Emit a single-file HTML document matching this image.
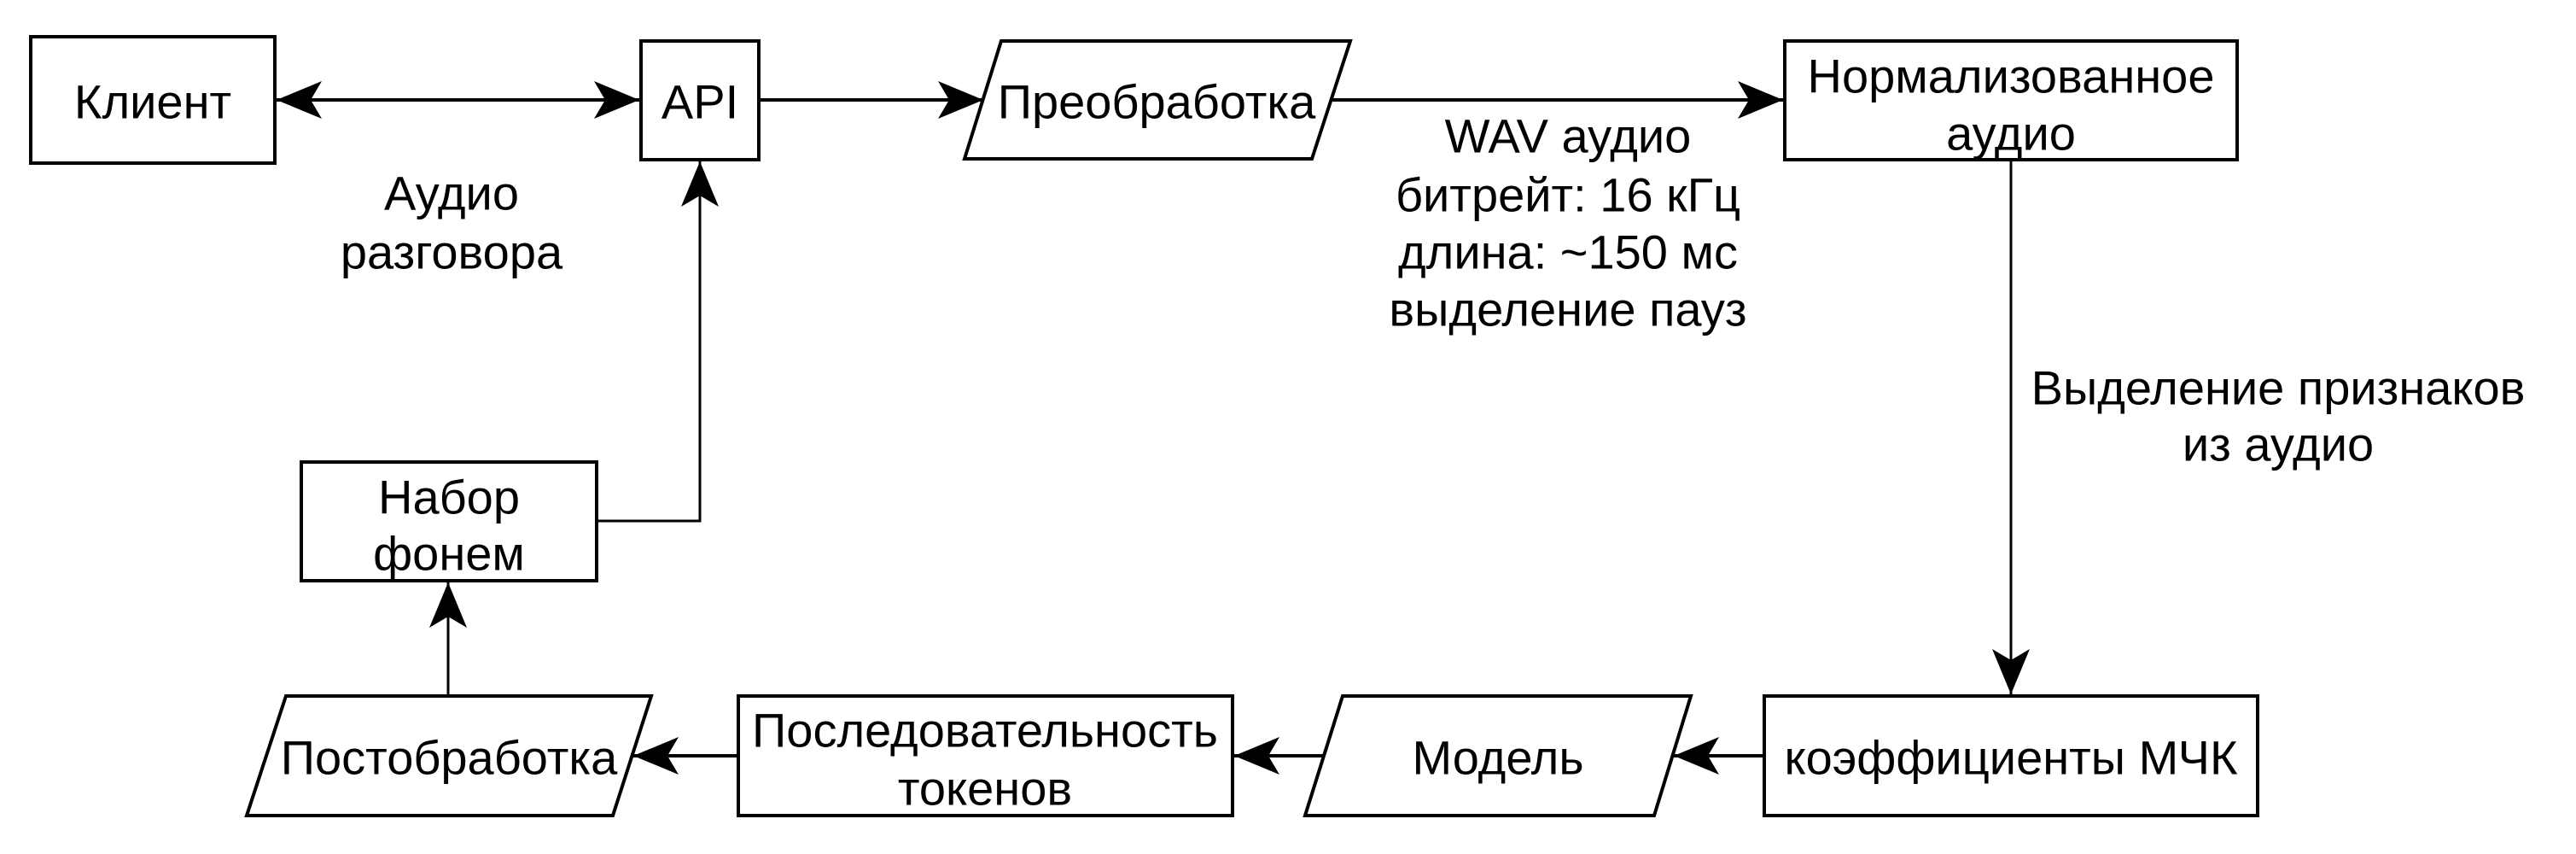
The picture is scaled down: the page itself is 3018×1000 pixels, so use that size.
<!DOCTYPE html>
<html><head><meta charset="utf-8"><style>
html,body{margin:0;padding:0;background:#fff;width:3018px;height:1000px;overflow:hidden}
text{font-family:"Liberation Sans",Arial,Helvetica,sans-serif;font-size:56px;fill:#000;text-anchor:middle;dominant-baseline:central}
</style></head><body>
<svg width="3018" height="1000" viewBox="0 0 3018 1000" xmlns="http://www.w3.org/2000/svg">
<defs>
<marker id="a" markerUnits="userSpaceOnUse" markerWidth="60" markerHeight="50" viewBox="-55 -25 60 50" refX="0" refY="0" orient="auto-start-reverse">
<path d="M0,0 L-53,-22 L-40,0 L-53,22 Z" fill="#000"/>
</marker>
</defs>
<g fill="none" stroke="#000" stroke-width="4">
<rect x="36" y="43" width="286" height="148"/>
<rect x="751" y="48" width="138" height="139"/>
<polygon points="1173,48 1582,48 1537,186 1130,186"/>
<rect x="2091" y="48" width="530" height="139"/>
<rect x="353" y="541" width="346" height="139"/>
<polygon points="335,815 763,815 718,955 289,955"/>
<rect x="865" y="815" width="579" height="140"/>
<polygon points="1573,815 1981,815 1938,955 1529,955"/>
<rect x="2067" y="815" width="578" height="140"/>
<line x1="324" y1="117" x2="749" y2="117" marker-start="url(#a)" marker-end="url(#a)"/>
<line x1="889" y1="117" x2="1152" y2="117" marker-end="url(#a)"/>
<line x1="1560" y1="117" x2="2089" y2="117" marker-end="url(#a)"/>
<line x1="2356" y1="187" x2="2356" y2="813" stroke-width="3" marker-end="url(#a)"/>
<line x1="2067" y1="885" x2="1961" y2="885" marker-end="url(#a)"/>
<line x1="1551" y1="885" x2="1446" y2="885" marker-end="url(#a)"/>
<line x1="865" y1="885" x2="742" y2="885" marker-end="url(#a)"/>
<line x1="525" y1="815" x2="525" y2="682" stroke-width="3" marker-end="url(#a)"/>
<polyline points="699,610 820,610 820,189" stroke-width="3" marker-end="url(#a)"/>
</g>
<text x="179" y="119">Клиент</text>
<text x="820" y="119">API</text>
<text x="1355" y="119">Преобработка</text>
<text x="2356" y="89">Нормализованное</text>
<text x="2356" y="156">аудио</text>
<text x="529" y="226">Аудио</text>
<text x="529" y="295">разговора</text>
<text x="1837" y="159">WAV аудио</text>
<text x="1837" y="228">битрейт: 16 кГц</text>
<text x="1837" y="295">длина: ~150 мс</text>
<text x="1837" y="362">выделение пауз</text>
<text x="2669" y="454">Выделение признаков</text>
<text x="2669" y="520">из аудио</text>
<text x="526" y="582">Набор</text>
<text x="526" y="648">фонем</text>
<text x="526" y="887">Постобработка</text>
<text x="1154" y="855">Последовательность</text>
<text x="1154" y="923">токенов</text>
<text x="1755" y="887">Модель</text>
<text x="2356" y="887">коэффициенты МЧК</text>
</svg>
</body></html>
